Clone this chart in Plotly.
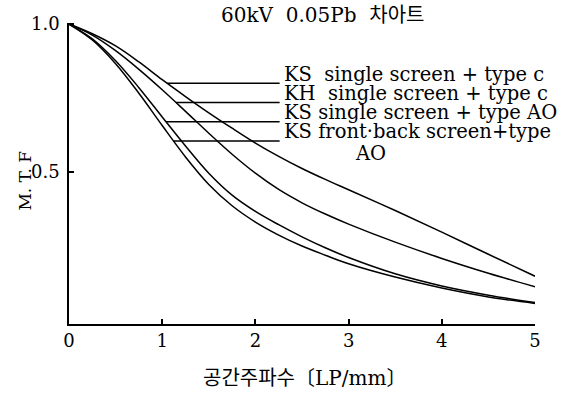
import numpy as np
import plotly.graph_objects as go

# ---- data ----
freq = [0, 0.25, 0.5, 0.75, 1.0, 1.25, 1.5, 1.75, 2.0, 2.25, 2.5, 2.75, 3.0, 3.5, 4.0, 4.5, 5.0]
ks_single_c = [1.0, 0.967, 0.926, 0.872, 0.812, 0.755, 0.70, 0.648, 0.598, 0.553, 0.512, 0.475, 0.44, 0.37, 0.297, 0.222, 0.148]
kh_single_c = [1.0, 0.9625, 0.91, 0.847, 0.778, 0.705, 0.631, 0.56, 0.496, 0.441, 0.396, 0.358, 0.324, 0.263, 0.208, 0.158, 0.112]
ks_single_ao = [1.0, 0.95, 0.876, 0.785, 0.686, 0.588, 0.496, 0.422, 0.367, 0.322, 0.281, 0.244, 0.211, 0.156, 0.115, 0.084, 0.059]
ks_fb_ao = [1.0, 0.946, 0.866, 0.766, 0.657, 0.551, 0.458, 0.386, 0.331, 0.287, 0.25, 0.219, 0.19, 0.145, 0.108, 0.078, 0.056]

series = [ks_single_c, kh_single_c, ks_single_ao, ks_fb_ao]
labels = ["KS  single screen + type c", "KH  single screen + type c",
          "KS single screen + type AO", "KS front·back screen+type"]
label_levels = [0.80, 0.735, 0.67, 0.605]   # MTF level of each leader line
label_x = 2.26                              # where leader lines end

x_ticks = [0, 1, 2, 3, 4, 5]
y_ticks = [0.5, 1.0]
y_ticktext = ["0.5", "1.0"]

title_text = "60kV  0.05Pb  차아트"
x_title = "공간주파수〔LP/mm〕"
y_title = "M. T. F"

FONT = "DejaVu Serif, Noto Sans CJK KR, serif"

fig = go.Figure()
for s in series:
    fig.add_trace(go.Scatter(x=freq, y=s, mode="lines",
                             line=dict(color="black", width=1.5, shape="spline", smoothing=1.0),
                             showlegend=False, hoverinfo="skip"))

for s, lvl, txt in zip(series, label_levels, labels):
    x0 = float(np.interp(lvl, s[::-1], freq[::-1]))
    fig.add_shape(type="line", x0=x0, x1=label_x, y0=lvl, y1=lvl,
                  line=dict(color="black", width=1.5), xref="x", yref="y")
    fig.add_annotation(x=label_x, y=lvl, text=txt, showarrow=False,
                       xanchor="left", yanchor="middle", yshift=9, xshift=2,
                       font=dict(family=FONT, size=19.5, color="black"))
fig.add_annotation(x=3.23, y=label_levels[3], text="AO", showarrow=False,
                   xanchor="center", yanchor="middle", yshift=-13,
                   font=dict(family=FONT, size=19.5, color="black"))

# axis titles & title
fig.add_annotation(xref="paper", yref="paper", x=0.506, y=-0.179, text=x_title,
                   showarrow=False, xanchor="center", yanchor="middle",
                   font=dict(family=FONT, size=20, color="black"))
fig.add_annotation(xref="paper", yref="paper", x=-0.094, y=0.477, text=y_title,
                   showarrow=False, xanchor="center", yanchor="middle", textangle=-90,
                   font=dict(family=FONT, size=17, color="black"))
fig.add_annotation(xref="paper", yref="paper", x=0.545, y=1.027, text=title_text,
                   showarrow=False, xanchor="center", yanchor="middle",
                   font=dict(family=FONT, size=20, color="black"))

fig.update_layout(
    width=566, height=397,
    margin=dict(l=69, r=31, t=23, b=73, pad=0),
    plot_bgcolor="white", paper_bgcolor="white",
    font=dict(family=FONT, color="black"),
)
fig.update_xaxes(range=[0, 5], tickvals=x_ticks, showgrid=False, zeroline=False,
                 showline=True, linecolor="black", linewidth=1.5,
                 ticks="inside", ticklen=5, tickcolor="black", tickwidth=1.5,
                 tickfont=dict(family=FONT, size=18, color="black"), ticklabelstandoff=0)
fig.update_yaxes(range=[-0.0135, 1.0035], tickvals=y_ticks, ticktext=y_ticktext,
                 showgrid=False, zeroline=False,
                 showline=True, linecolor="black", linewidth=1.5,
                 ticks="inside", ticklen=5, tickcolor="black", tickwidth=1.5,
                 tickfont=dict(family=FONT, size=18, color="black"), ticklabelstandoff=4)

fig.write_html("out.html")
